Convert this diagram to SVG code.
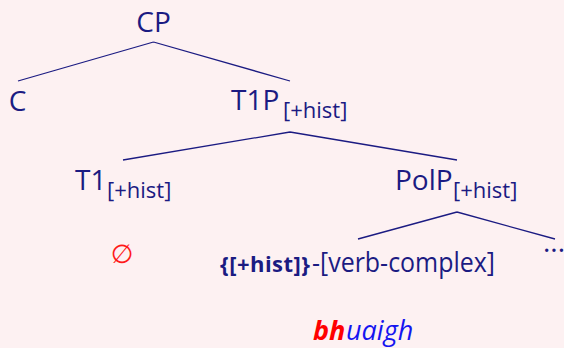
<svg xmlns="http://www.w3.org/2000/svg" width="564" height="348" viewBox="0 0 564 348">
<style>
.t{font-family:"Open Sans","Liberation Sans",sans-serif;fill:#1b1b82;font-size:28px}
.s{font-family:"Open Sans","Liberation Sans",sans-serif;fill:#1b1b82;font-size:22px}
.e{stroke:#1b1b82;stroke-width:1.3;fill:none}
.w{font-family:"Open Sans","Liberation Sans",sans-serif;font-style:italic;font-size:27px}
</style>
<rect width="564" height="348" fill="#fdf1f2"/>
<g id="connectors">
<path class="e" d="M153.5 42 L18 81 M153.5 42 L290 81"/>
<path class="e" d="M290 132 L123 160 M290 132 L457 160"/>
<path class="e" d="M457 212 L358 239 M457 212 L555 239"/>
</g>
<g id="CP"><text class="t" x="153.5" y="32" text-anchor="middle">CP</text></g>
<g id="C"><text class="t" x="17.5" y="111" text-anchor="middle">C</text></g>
<g id="T1P"><text class="t" x="231" y="110">T1P</text><text class="s" x="283" y="118">[+hist]</text></g>
<g id="T1"><text class="t" x="75" y="190">T1</text><text class="s" x="107" y="198">[+hist]</text></g>
<g id="PolP"><text class="t" x="395" y="190">PolP</text><text class="s" x="453" y="198">[+hist]</text></g>
<g id="null"><text x="122" y="263" text-anchor="middle" font-family="DejaVu Sans, sans-serif" font-size="26" fill="#ff1a1a">∅</text></g>
<g id="verb"><text x="220" y="272" font-family="Open Sans, Liberation Sans, sans-serif" font-weight="bold" font-size="22" fill="#1b1b82" textLength="90">{[+hist]}</text><text class="t" x="312" y="272" textLength="183" lengthAdjust="spacingAndGlyphs">-[verb-complex]</text></g>
<g id="dots"><text class="t" x="554" y="252" text-anchor="middle">...</text></g>
<g id="word"><text class="w" x="313" y="340" font-weight="bold" fill="#ff0000">bh</text><text class="w" x="346" y="340" fill="#1515f0">uaigh</text></g>
</svg>
